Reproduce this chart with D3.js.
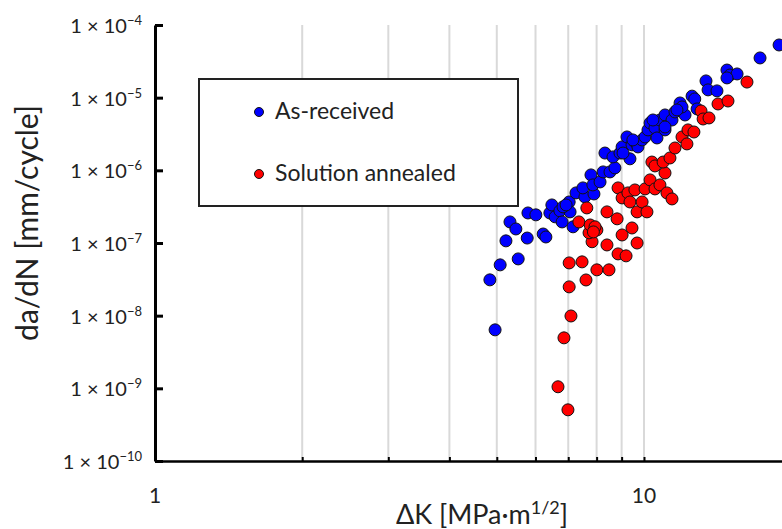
<!DOCTYPE html>
<html>
<head>
<meta charset="utf-8">
<script src="https://cdn.jsdelivr.net/npm/d3@7"></script>
<style>
body { margin:0; background:#fff; }
text { font-family: Lato, "Open Sans", sans-serif; fill:#222; }
</style>
</head>
<body>
<svg id="chart"></svg>
<script>
// As-received points: [deltaK, da/dN]
var asReceived = [
 [4.84,3.11e-8],[4.96,6.38e-9],[5.08,5.0e-8],[5.22,1.07e-7],[5.53,6.04e-8],
 [5.32,1.95e-7],[5.47,1.56e-7],[5.77,1.17e-7],[5.79,2.59e-7],[6.01,2.44e-7],
 [6.22,1.33e-7],[6.30,1.21e-7],[6.42,2.59e-7],[6.48,3.34e-7],[6.58,2.29e-7],
 [6.73,2.77e-7],[6.80,1.95e-7],[7.03,3.67e-7],[7.06,2.68e-7],[7.16,1.67e-7],
 [6.83,3.14e-7],[7.26,4.89e-7],[7.57,4.31e-7],[7.90,4.73e-7],[6.93,3.34e-7],
 [7.50,5.73e-7],[7.79,8.65e-7],[7.86,6.30e-7],[8.13,6.92e-7],[8.25,9.51e-7],
 [8.32,1.73e-6],[8.52,9.51e-7],[8.72,1.08e-6],[8.64,1.53e-6],[8.93,1.73e-6],
 [9.02,2.10e-6],[9.23,2.88e-6],[9.36,1.44e-6],[9.45,2.24e-6],[9.58,2.46e-6],
 [9.72,2.10e-6],[9.91,2.62e-6],[10.05,2.88e-6],[10.19,3.60e-6],[10.29,4.49e-6],
 [10.53,3.83e-6],[10.63,2.79e-6],[10.78,4.93e-6],[11.04,3.60e-6],[11.04,5.78e-6],
 [11.41,4.93e-6],[11.57,6.36e-6],[12.13,5.78e-6],[11.85,8.45e-6],[11.96,7.45e-6],
 [12.54,1.05e-5],[12.70,9.6e-6],[12.84,7.0e-6],[11.68,6.78e-6],[13.39,1.70e-5],
 [13.52,1.28e-5],[14.10,1.24e-5],[14.78,2.40e-5],[14.99,2.05e-5],[15.50,2.12e-5],
 [14.78,1.87e-5],[17.27,3.52e-5],[18.89,5.31e-5],[10.43,4.93e-6],[9.49,2.62e-6],
 [9.06,1.73e-6],[11.04,3.95e-6]
];

// Solution annealed points: [deltaK, da/dN]
var annealed = [
 [6.99,5.06e-10],[6.67,1.05e-9],[6.86,4.95e-9],[7.09,9.9e-9],[7.03,2.49e-8],
 [7.03,5.32e-8],[7.47,5.5e-8],[7.61,3.1e-8],[8.01,4.27e-8],[8.48,4.27e-8],
 [8.40,9.4e-8],[7.83,1.04e-7],[7.72,1.38e-7],[8.01,1.51e-7],[8.85,7.08e-8],
 [9.19,6.65e-8],[9.02,1.29e-7],[9.68,1.0e-7],[9.45,1.61e-7],[7.36,1.95e-7],
 [7.64,3.04e-7],[7.76,1.77e-7],[7.94,1.67e-7],[7.88,1.42e-7],[8.40,2.68e-7],
 [8.81,2.15e-7],[8.85,5.73e-7],[9.02,4.17e-7],[9.27,4.89e-7],[9.36,3.67e-7],
 [9.58,5.37e-7],[9.68,2.68e-7],[9.91,3.67e-7],[10.05,5.55e-7],[10.14,2.68e-7],
 [10.29,7.38e-7],[10.53,5.55e-7],[10.78,6.3e-7],[11.14,4.89e-7],[11.41,4.04e-7],
 [11.04,9.2e-7],[10.38,1.3e-6],[10.53,1.15e-6],[10.94,1.3e-6],[11.30,1.48e-6],
 [11.57,2.03e-6],[11.96,2.88e-6],[12.24,2.31e-6],[12.30,3.6e-6],[12.65,3.37e-6],
 [13.08,6.56e-6],[13.21,5.09e-6],[13.58,5.26e-6],[14.17,8.19e-6],[14.85,9.0e-6],
 [16.24,1.64e-5]
];

var seriesNames = ["As-received","Solution annealed"];
var seriesColors = ["#0000ff","#ff0000"];

var xGrid = [2,3,4,5,6,7,8,9,10];
var xLabels = [1,10];
var yTicks = [1e-4,1e-5,1e-6,1e-7,1e-8,1e-9,1e-10];
var yExps = [-4,-5,-6,-7,-8,-9,-10];

var screen = {width:782,height:529};
var margins = {left:155,top:25};
var graph = {height:436};

var svg = d3.select("#chart")
    .attr("width",screen.width)
    .attr("height",screen.height);

var xScale = d3.scaleLog()
    .domain([1,20])
    .range([margins.left, margins.left+489*Math.log10(20)]);

var yScale = d3.scaleLog()
    .domain([1e-10,1e-4])
    .range([margins.top+graph.height, margins.top]);

// vertical gridlines
svg.append("g")
    .selectAll("line")
    .data(xGrid)
    .enter()
    .append("line")
    .attr("x1",function(d){return xScale(d);})
    .attr("x2",function(d){return xScale(d);})
    .attr("y1",yScale(1e-4))
    .attr("y2",yScale(1e-10))
    .attr("stroke","#d9d9d9")
    .attr("stroke-width",2);

// x axis
var xAxis = d3.axisBottom(xScale)
    .tickValues(xGrid)
    .tickSizeInner(-4)
    .tickSizeOuter(0)
    .tickFormat("");
var gx = svg.append("g")
    .attr("transform","translate(0,"+yScale(1e-10)+")")
    .call(xAxis);
gx.select(".domain").attr("stroke","#000").attr("stroke-width",2.5);
gx.selectAll(".tick line").attr("stroke","#000").attr("stroke-width",2);

// y axis
var yAxis = d3.axisLeft(yScale)
    .tickValues(yTicks)
    .tickSizeInner(-8)
    .tickSizeOuter(0)
    .tickFormat("");
var gy = svg.append("g")
    .attr("transform","translate("+margins.left+",0)")
    .call(yAxis);
gy.select(".domain").attr("stroke","#000").attr("stroke-width",3);
gy.selectAll(".tick line").attr("stroke","#000").attr("stroke-width",3);

// y tick labels
var yl = svg.append("g")
    .selectAll("text")
    .data(yTicks)
    .enter()
    .append("text")
    .attr("x",142)
    .attr("y",function(d){return yScale(d)+8;})
    .attr("text-anchor","end")
    .style("font-size","20px");
yl.append("tspan").text("1 \u00d7 10");
yl.append("tspan")
    .attr("dy",-8)
    .style("font-size","13px")
    .text(function(d,i){return "\u2212"+(-yExps[i]);});

// x tick labels
svg.append("g")
    .selectAll("text")
    .data(xLabels)
    .enter()
    .append("text")
    .attr("x",function(d){return xScale(d);})
    .attr("y",503)
    .attr("text-anchor","middle")
    .style("font-size","21px")
    .text(function(d){return d;});

// points
var drawPoints = function(data,color)
{
    svg.append("g")
        .selectAll("circle")
        .data(data)
        .enter()
        .append("circle")
        .attr("cx",function(d){return xScale(d[0]);})
        .attr("cy",function(d){return yScale(d[1]);})
        .attr("r",6)
        .attr("fill",color)
        .attr("stroke","#111")
        .attr("stroke-width",1);
}
drawPoints(asReceived,seriesColors[0]);
drawPoints(annealed,seriesColors[1]);

// legend
var legend = svg.append("g");
legend.append("rect")
    .attr("x",199).attr("y",79)
    .attr("width",319).attr("height",127)
    .attr("fill","#fff")
    .attr("stroke","#222")
    .attr("stroke-width",2);
var items = legend.selectAll("g.item")
    .data(seriesNames)
    .enter()
    .append("g")
    .attr("transform",function(d,i){return "translate(259,"+(112+i*62)+")";});
items.append("circle")
    .attr("r",4.5)
    .attr("fill",function(d,i){return seriesColors[i];})
    .attr("stroke","#111")
    .attr("stroke-width",1);
items.append("text")
    .attr("x",16)
    .attr("y",7)
    .style("font-size","23px")
    .text(function(d){return d;});

// axis titles
var xt = svg.append("text")
    .attr("x",482)
    .attr("y",524)
    .attr("text-anchor","middle")
    .style("font-size","27px");
xt.append("tspan").text("\u0394K [MPa\u00b7m");
xt.append("tspan").attr("dy",-10).style("font-size","18px").text("1/2");
xt.append("tspan").attr("dy",10).text("]");

svg.append("text")
    .attr("transform","translate(38,223) rotate(-90)")
    .attr("text-anchor","middle")
    .style("font-size","30px")
    .text("da/dN [mm/cycle]");
</script>
</body>
</html>
